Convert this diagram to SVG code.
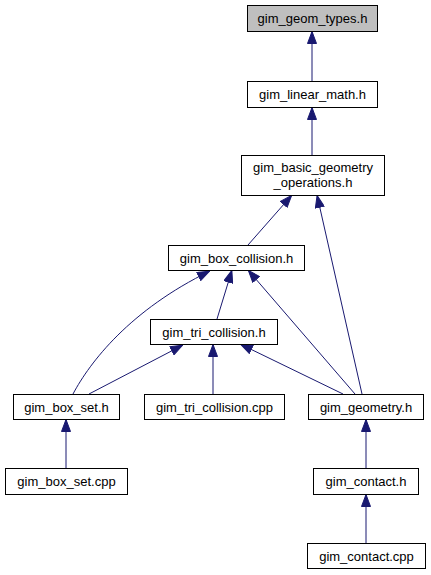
<svg xmlns="http://www.w3.org/2000/svg" width="431" height="575" viewBox="0 0 431 575">
<style>
.node rect{fill:#ffffff;stroke:#000000;stroke-width:1}
.node.root rect{fill:#bfbfbf}
.node text{font-family:"Liberation Sans",Arial,Helvetica,sans-serif;font-size:13px;fill:#000000;text-anchor:middle}
.edges path{fill:none;stroke:#191970;stroke-width:1;marker-end:url(#arr)}
</style>
<defs>
<marker id="arr" markerUnits="userSpaceOnUse" viewBox="0 0 13 10" markerWidth="13" markerHeight="10" refX="13" refY="5" orient="auto">
<path d="M0.5,0.5 L12.5,5 L0.5,9.5 z" fill="#191970" stroke="#191970" stroke-width="1"/>
</marker>
</defs>
<rect width="431" height="575" fill="#ffffff"/>
<g id="edges" class="edges">
<path d="M312,81 L312,31"/>
<path d="M312,155 L312,107"/>
<path d="M248,245 L292,195"/>
<path d="M362,394 L317,195"/>
<path d="M217,319 L232,270"/>
<path d="M73,394 C90,362 130,310 210,271"/>
<path d="M355,394 L248,270"/>
<path d="M89,394 L183,345"/>
<path d="M213,394 L213,344"/>
<path d="M343,394 L240,344"/>
<path d="M66,468 L66,419"/>
<path d="M366,468 L366,419"/>
<path d="M366,543 L366,494"/>
</g>
<g id="n_geom_types" class="node root"><rect x="247.5" y="5.5" width="130" height="26"/><text x="312.5" y="23">gim_geom_types.h</text></g>
<g id="n_linear_math" class="node"><rect x="247.5" y="81.5" width="130" height="26"/><text x="312.5" y="99">gim_linear_math.h</text></g>
<g id="n_basic_geometry" class="node"><rect x="241.5" y="155.5" width="143" height="40"/><text x="313" y="172">gim_basic_geometry</text><text x="313" y="187">_operations.h</text></g>
<g id="n_box_collision" class="node"><rect x="168.5" y="245.5" width="136" height="25"/><text x="236.5" y="262.5">gim_box_collision.h</text></g>
<g id="n_tri_collision" class="node"><rect x="150.5" y="319.5" width="127" height="25"/><text x="214" y="336.5">gim_tri_collision.h</text></g>
<g id="n_box_set_h" class="node"><rect x="13.5" y="394.5" width="106" height="25"/><text x="66.5" y="411.5">gim_box_set.h</text></g>
<g id="n_tri_collision_cpp" class="node"><rect x="144.5" y="394.5" width="140" height="25"/><text x="214.5" y="411.5">gim_tri_collision.cpp</text></g>
<g id="n_geometry" class="node"><rect x="308.5" y="394.5" width="115" height="25"/><text x="366" y="411.5">gim_geometry.h</text></g>
<g id="n_box_set_cpp" class="node"><rect x="5.5" y="468.5" width="122" height="26"/><text x="66.5" y="486">gim_box_set.cpp</text></g>
<g id="n_contact_h" class="node"><rect x="313.5" y="468.5" width="105" height="26"/><text x="366" y="486">gim_contact.h</text></g>
<g id="n_contact_cpp" class="node"><rect x="307.5" y="543.5" width="118" height="25"/><text x="366.5" y="560.5">gim_contact.cpp</text></g>
</svg>
